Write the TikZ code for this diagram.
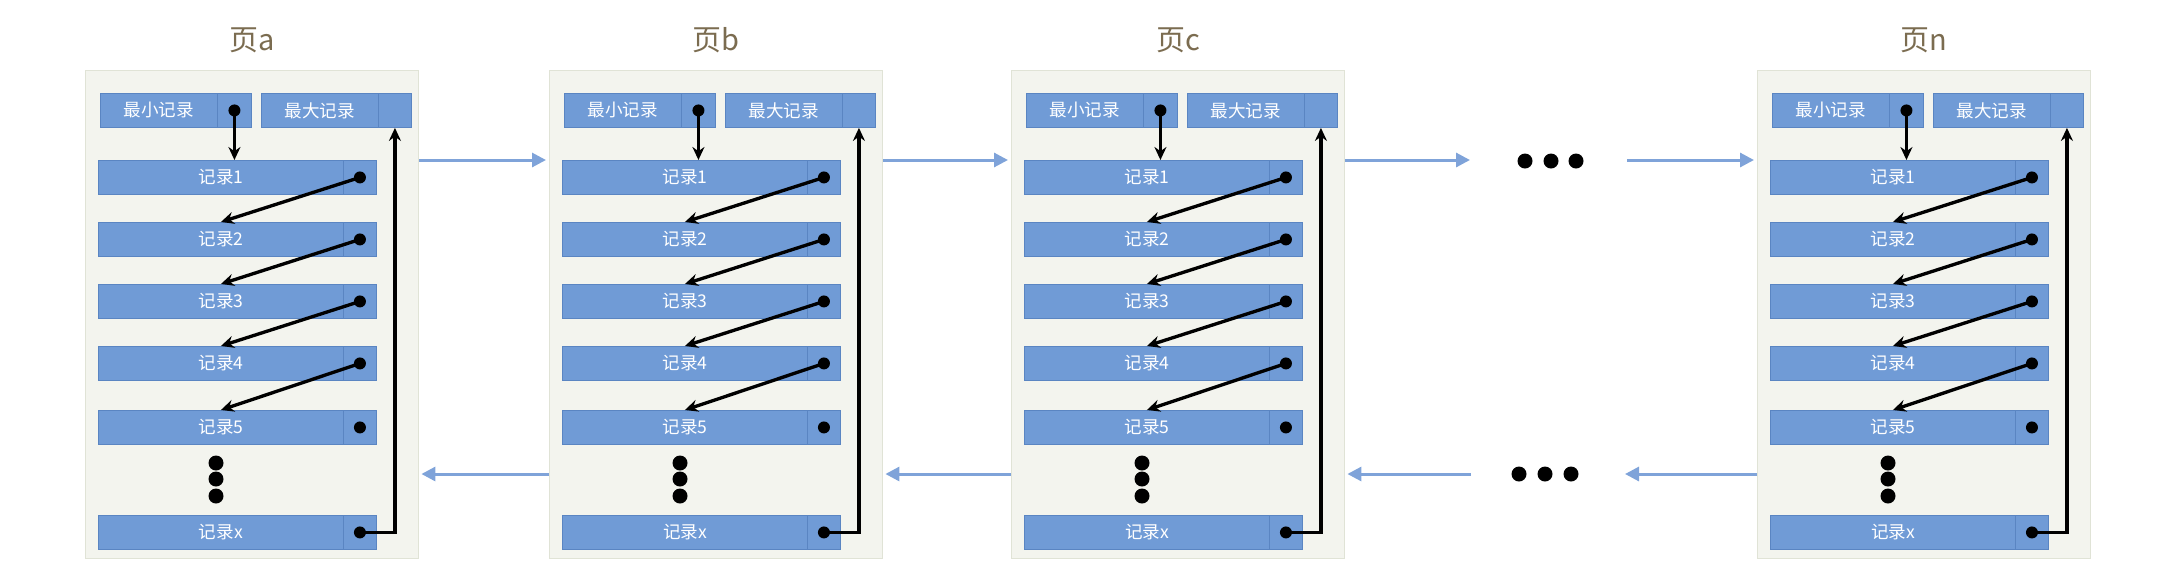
\documentclass[tikz,border=0pt]{standalone}
\usepackage{fontspec}
\setmainfont{Noto Sans CJK SC}
\usetikzlibrary{
  arrows.meta,
  positioning,
}
\def\u{0.02cm}
\definecolor{recblue}{HTML}{709BD6}
\definecolor{recedge}{HTML}{5A85C2}
\definecolor{pagefill}{HTML}{F3F4EE}
\definecolor{pageedge}{HTML}{E0E3D6}
\definecolor{linkblue}{HTML}{7FA3D9}
\definecolor{titlecol}{HTML}{7B6C50}
\tikzset{
  x=\u, y=-\u,
  page/.style={
    draw=pageedge,
    fill=pagefill,
    line width=0.8pt,
    minimum width=333*\u,
    minimum height=488*\u,
    inner sep=0mm,
    anchor=north west
  },
  rec/.style={
    draw=recedge,
    fill=recblue,
    line width=0.5pt,
    minimum height=34*\u,
    inner sep=0mm,
    anchor=north west,
    text=white,
    font=\fontsize{10}{12}\selectfont
  },
  pagetitle/.style={
    text=titlecol,
    font=\fontsize{16.5}{19}\selectfont
  },
  dot/.style={
    circle,
    fill=black,
    inner sep=0mm,
    minimum size=12*\u
  },
  pointer/.style={
    -{Stealth[length=0.26cm,width=0.24cm]},
    line width=1.9pt
  },
  link/.style={
    -{Triangle[length=0.28cm,width=0.28cm]},
    draw=linkblue,
    line width=1.7pt
  }
}
\begin{document}
\begin{tikzpicture}
\useasboundingbox (0,0) rectangle (2164,586);
\foreach \p/\L in {a/85, b/549, c/1011, n/1757} {
  % Page box and its title
  \node[page] (\p) at (\L,70) {};
  \node[pagetitle] (\p-t) at (\L+167,40) {页\p};
  % Smallest and largest record
  \node[rec,minimum width=117*\u] (\p-min)  at (\L+15,93)  {最小记录};
  \node[rec,minimum width=34*\u]  (\p-minp) at (\L+132,93) {};
  \node[rec,minimum width=117*\u] (\p-max)  at (\L+176,93) {最大记录};
  \node[rec,minimum width=33*\u]  (\p-maxp) at (\L+293,93) {};
  \node[dot] (\p-d0) at (\p-minp) {};
  % Records
  \foreach \i/\y in {1/160, 2/222, 3/284, 4/346, 5/410, x/515} {
    \node[rec,minimum width=245*\u] (\p-r\i) at (\L+13,\y)  {记录\i};
    \node[rec,minimum width=33*\u]  (\p-p\i) at (\L+258,\y) {};
    \node[dot] (\p-d\i) at (\p-p\i) {};
  }
  \foreach \y in {463, 479, 496}
    \fill (\L+131,\y) circle[radius=7.5*\u];
  % Pointers
  \draw[pointer] (\p-d0.center) -- (\p-d0.center |- \p-r1.north);
  \foreach \i/\j in {1/2, 2/3, 3/4, 4/5}
    \draw[pointer] (\p-d\i.center) -- (\p-r\j.north);
  \draw[pointer] (\p-dx.center) -| (\p-maxp.south);
  \coordinate (\p-back) at (\L,474);
}
% Gap between page c and page n
\coordinate (m1) at (1470,160);
\coordinate (m2) at (1627,160);
\coordinate (m3) at (1471,474);
\coordinate (m4) at (1625,474);
\foreach \x in {1525, 1551, 1576}
  \fill (\x,161) circle[radius=7.5*\u];
\foreach \x in {1519, 1545, 1571}
  \fill (\x,474) circle[radius=7.5*\u];
% Links between pages
\draw[link] (a.east |- a-r1.north) -- ([xshift=-3*\u]b.west |- a-r1.north);
\draw[link] (b.east |- b-r1.north) -- ([xshift=-3*\u]c.west |- b-r1.north);
\draw[link] (c.east |- c-r1.north) -- (m1);
\draw[link] (m2) -- ([xshift=-3*\u]n.west |- n-r1.north);
\draw[link] (b-back) -- ([xshift=2*\u]a.east |- b-back);
\draw[link] (c-back) -- ([xshift=2*\u]b.east |- c-back);
\draw[link] (n-back) -- (m4);
\draw[link] (m3) -- ([xshift=2*\u]c.east |- m3);
\end{tikzpicture}
\end{document}
